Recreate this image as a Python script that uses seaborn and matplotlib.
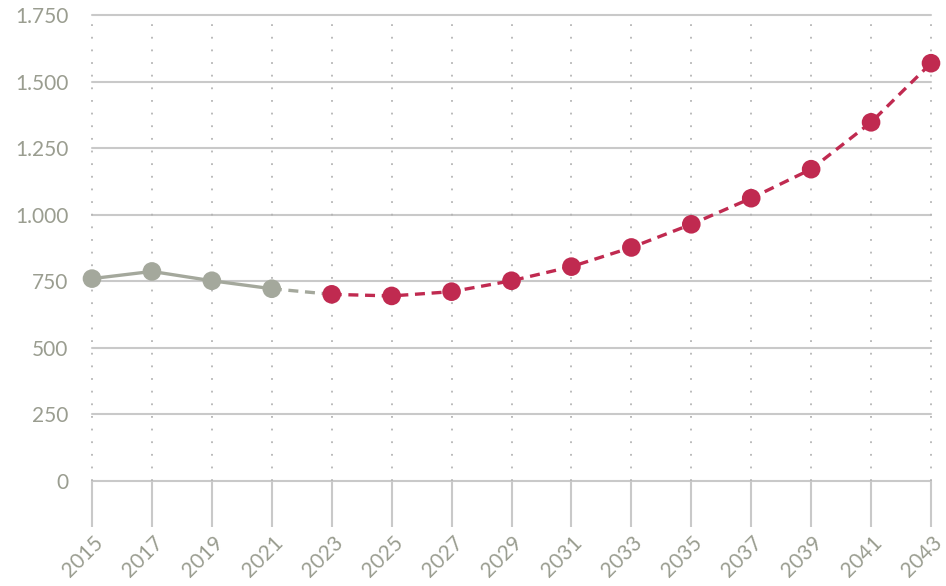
import matplotlib
matplotlib.use("Agg")
import matplotlib.pyplot as plt
import matplotlib.transforms as mtrans
from matplotlib.ticker import FuncFormatter
import pandas as pd
import seaborn as sns

# Recorded values
years_hist = [2015, 2017, 2019, 2021]
values_hist = [760, 787, 752, 722]

# Projected values
years_proj = [2023, 2025, 2027, 2029, 2031, 2033, 2035, 2037, 2039, 2041, 2043]
values_proj = [701, 695, 711, 752, 805, 877, 964, 1062, 1171, 1347, 1569]

y_ticks = [0, 250, 500, 750, 1000, 1250, 1500, 1750]
x_ticks = list(range(2015, 2044, 2))

GRAY = "#a4a89c"
RED = "#c02a50"
TEXT = "#9a9d90"
GRID = "#c9c9c9"

sns.set_theme(style="white")
plt.rcParams["font.family"] = ["Lato", "DejaVu Sans"]

hist = pd.DataFrame({"year": years_hist, "value": values_hist})
proj = pd.DataFrame({"year": years_proj, "value": values_proj})
bridge = pd.DataFrame({"year": [years_hist[-1], years_proj[0]],
                       "value": [values_hist[-1], values_proj[0]]})

fig = plt.figure(figsize=(9.46, 5.86), dpi=100)
ax = fig.add_axes([92 / 946, (586 - 481) / 586, (931 - 92) / 946, (481 - 15) / 586])

# Grid: solid horizontals, dotted verticals
for y in y_ticks:
    ax.axhline(y, color=GRID, lw=1.5, zorder=0)
for x in x_ticks:
    ax.axvline(x, color="#b5b5b5", lw=1.3, ls=(0, (1, 6)), zorder=0)

sns.lineplot(data=hist, x="year", y="value", ax=ax, color=GRAY, lw=2.4,
             zorder=2, legend=False)
sns.lineplot(data=bridge, x="year", y="value", ax=ax, color=GRAY, lw=2.4,
             zorder=2, legend=False).lines[-1].set_dashes([3, 2])
sns.lineplot(data=proj, x="year", y="value", ax=ax, color=RED, lw=2.4,
             zorder=2, legend=False).lines[-1].set_dashes([3, 2])
sns.scatterplot(data=hist, x="year", y="value", ax=ax, color=GRAY, s=180,
                edgecolor="none", zorder=3, legend=False)
sns.scatterplot(data=proj, x="year", y="value", ax=ax, color=RED, s=180,
                edgecolor="none", zorder=3, legend=False)

ax.set_xlim(2015, 2043)
ax.set_ylim(0, 1750)
ax.set_xticks(x_ticks)
ax.set_yticks(y_ticks)
ax.yaxis.set_major_formatter(FuncFormatter(lambda v, _: f"{int(v):,}".replace(",", ".")))
ax.set_xlabel("")
ax.set_ylabel("")

for s in ax.spines.values():
    s.set_visible(False)

ax.tick_params(axis="y", left=False, length=0, pad=17, labelsize=15, labelcolor=TEXT)
ax.tick_params(axis="x", bottom=True, length=33, width=1.5, color=GRID,
               direction="out", pad=9, labelsize=15, labelcolor=TEXT)

offset = mtrans.ScaledTranslation(8 / 100, 0, fig.dpi_scale_trans)
for lbl in ax.get_xticklabels():
    lbl.set_rotation(45)
    lbl.set_ha("right")
    lbl.set_rotation_mode("anchor")
    lbl.set_va("center")
    lbl.set_transform(lbl.get_transform() + offset)

for line in ax.lines:
    line.set_clip_on(False)
for coll in ax.collections:
    coll.set_clip_on(False)

fig.savefig("out.png", dpi=100, facecolor="white")
